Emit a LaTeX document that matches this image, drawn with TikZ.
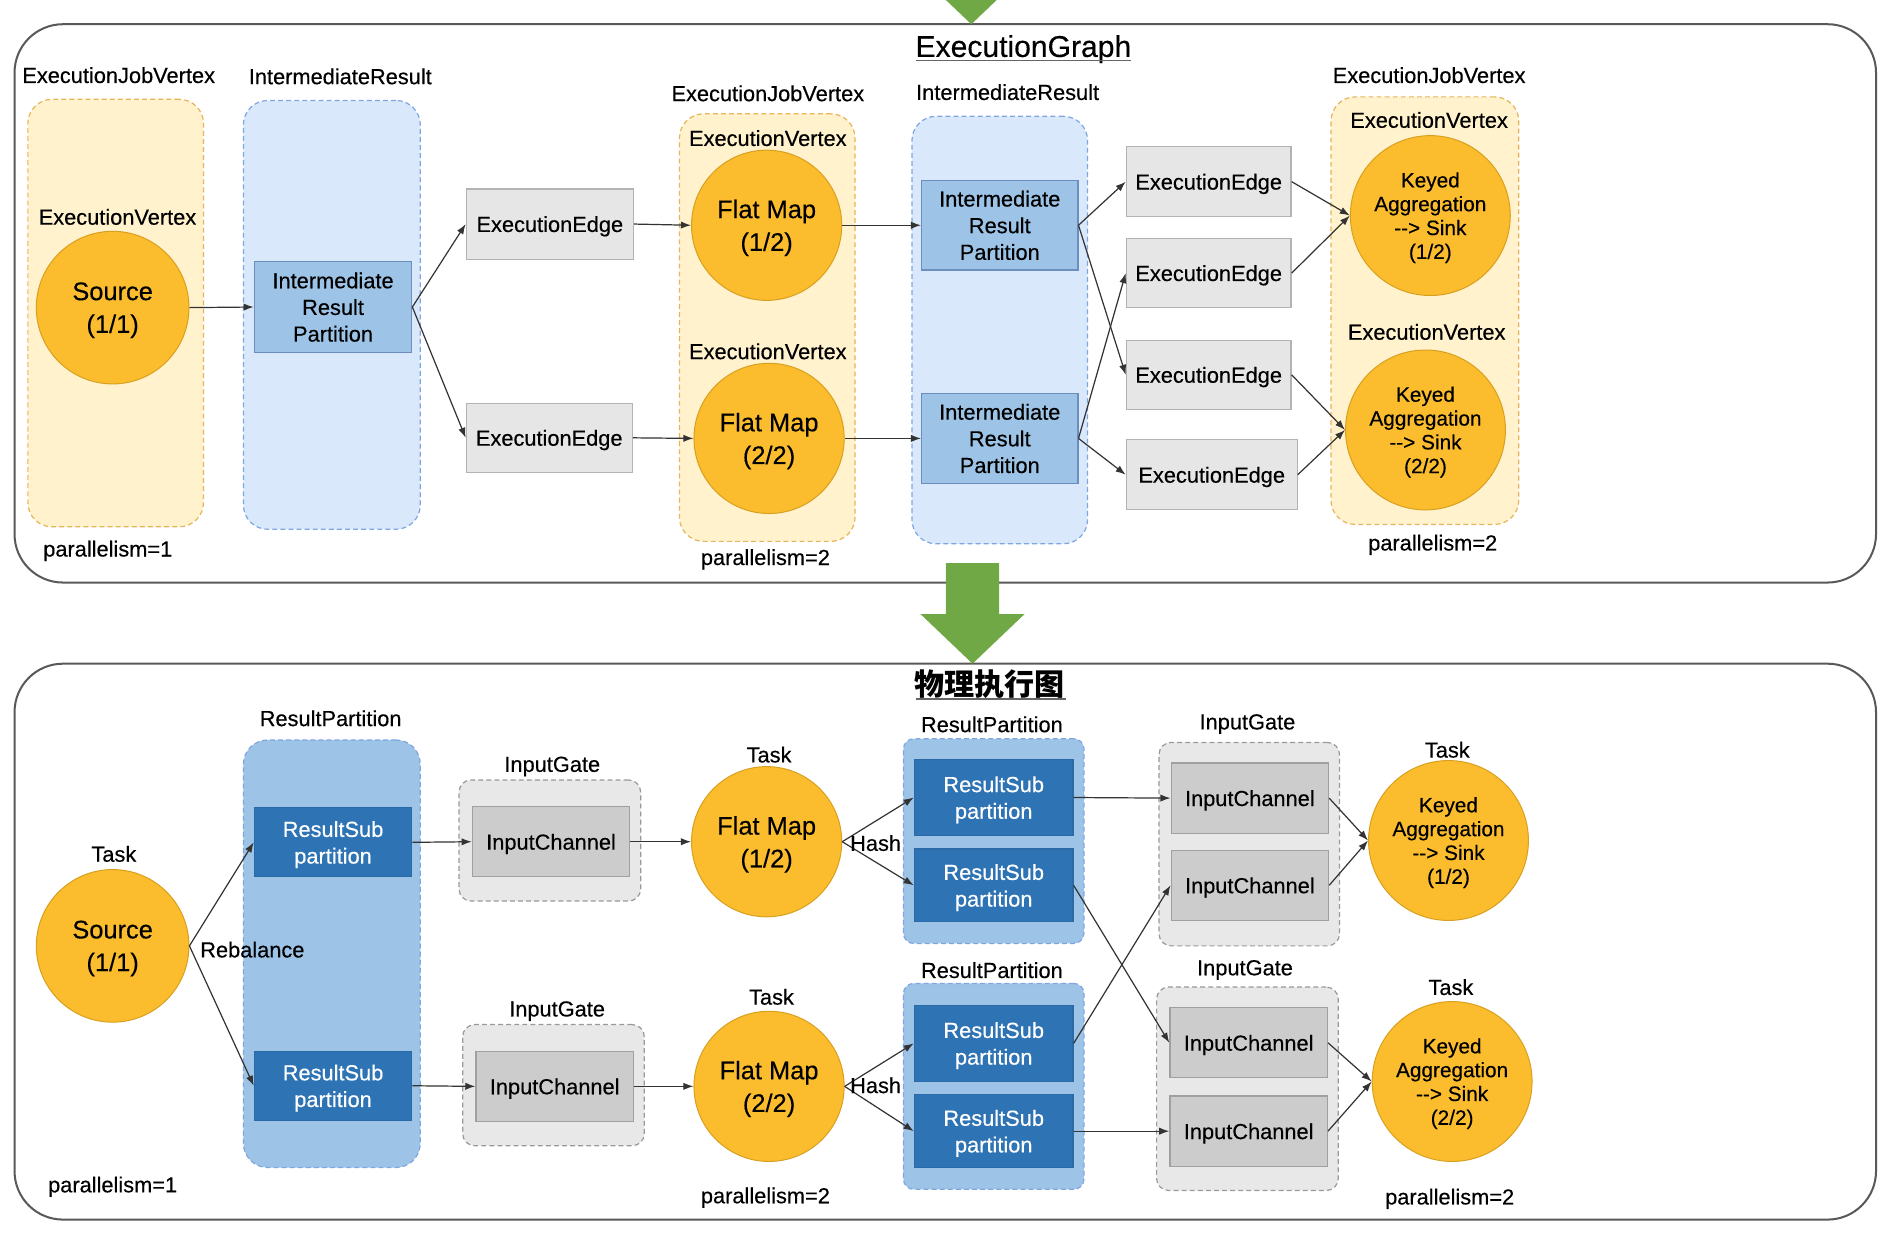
\documentclass[tikz,border=0pt]{standalone}
\usepackage{fontspec}
\setmainfont{Liberation Sans}[FakeBold=0.35]
\newfontfamily\cjkfont{Noto Sans CJK SC}
\usetikzlibrary{arrows.meta}
\definecolor{yfill}{HTML}{FFF2CC}
\definecolor{ybord}{HTML}{E6B45A}
\definecolor{bfill}{HTML}{DAE8FC}
\definecolor{bbord}{HTML}{7EA6E0}
\definecolor{irpf}{HTML}{9DC3E6}
\definecolor{irpb}{HTML}{6C8EBF}
\definecolor{opf}{HTML}{FBBD2D}
\definecolor{opb}{HTML}{D9A020}
\definecolor{eef}{HTML}{E6E6E6}
\definecolor{eeb}{HTML}{B3B3B3}
\definecolor{rspf}{HTML}{2E74B5}
\definecolor{rspb}{HTML}{2A6AA6}
\definecolor{igf}{HTML}{E8E8E8}
\definecolor{igb}{HTML}{999999}
\definecolor{icf}{HTML}{CCCCCC}
\definecolor{icb}{HTML}{A0A0A0}
\definecolor{arrgreen}{HTML}{6FA844}
\newcommand\lblfont{\fontsize{10.8}{13.2}\selectfont}
\newcommand\opfont{\fontsize{12.6}{16.2}\selectfont}
\newcommand\kafont{\fontsize{10.3}{11.8}\selectfont}
\newcommand\ttlfont{\fontsize{14.9}{18}\selectfont}
\begin{document}
\begin{tikzpicture}[x=0.6pt,y=-0.6pt,
  sz/.style 2 args={minimum width=#1*0.6pt, minimum height=#2*0.6pt},
  lbl/.style={inner sep=0pt, font=\lblfont, text depth=0pt},
  outerbox/.style={draw=black!65, line width=1pt, rounded corners=24pt},
  yelgroup/.style={draw=ybord, fill=yfill, line width=0.6pt, dash pattern=on 2.4pt off 1.6pt, rounded corners=12pt, inner sep=0pt},
  blugroup/.style={draw=bbord, fill=bfill, line width=0.6pt, dash pattern=on 2.4pt off 1.6pt, rounded corners=12pt, inner sep=0pt},
  rpgroup/.style={draw=bbord, fill=irpf, line width=0.6pt, dash pattern=on 2.4pt off 1.6pt, rounded corners=#1, inner sep=0pt},
  iggroup/.style={draw=igb, fill=igf, line width=0.6pt, dash pattern=on 2.4pt off 1.6pt, rounded corners=6pt, inner sep=0pt},
  irpbox/.style={draw=irpb, fill=irpf, line width=0.6pt, font=\lblfont, align=center, inner sep=0pt, text depth=0pt},
  eebox/.style={draw=eeb, fill=eef, line width=0.6pt, font=\lblfont, inner sep=0pt, text depth=0pt},
  rspbox/.style={draw=rspb, fill=rspf, line width=0.6pt, text=white, font=\lblfont, align=center, inner sep=0pt, text depth=0pt},
  icbox/.style={draw=icb, fill=icf, line width=0.6pt, font=\lblfont, inner sep=0pt, text depth=0pt},
  opnode/.style={circle, draw=opb, fill=opf, line width=0.5pt, font=\opfont, align=center, inner sep=0pt, text depth=0pt},
  kanode/.style={opnode, font=\kafont},
  arr/.style={-{Latex[length=5pt,width=3.6pt]}, line width=0.6pt, draw=black!80},
  bigarrow/.style={fill=arrgreen, draw=none}
]
\useasboundingbox (0,0) rectangle (1568,1023);

% outer frames
\node[outerbox, sz={1537}{461}] (frameA) at (780.5,250.5) {};
\node[outerbox, sz={1537}{459}] (frameB) at (780.5,777.5) {};

% green arrows
\fill[bigarrow] (781,-60) -- (825,-60) -- (825,-21) -- (845,-21) -- (802,20) -- (759,-21) -- (781,-21) -- cycle;
\fill[bigarrow] (781,465) -- (825,465) -- (825,507) -- (846,507) -- (803,548) -- (760,507) -- (781,507) -- cycle;

% ================= ExecutionGraph =================
\node[inner sep=0pt, font=\ttlfont, text depth=0pt] (ttlA) at (845,38) {ExecutionGraph};
\draw[black!60, line width=0.9pt] (756,50) coordinate (ulA1) -- (934,50) coordinate (ulA2);

% column 1
\node[lbl] (jvlblA) at (98,62) {ExecutionJobVertex};
\node[yelgroup, sz={145}{353}] (jvA) at (95.5,258.5) {};
\node[lbl] (evlblA) at (97,179) {ExecutionVertex};
\node[opnode, minimum size=126*0.6pt] (srcA) at (93,254) {Source\\(1/1)};
\node[lbl] (parA) at (89,453) {parallelism=1};

% column 2
\node[lbl] (irlblA) at (281,63) {IntermediateResult};
\node[blugroup, sz={146}{354}] (irA) at (274,260) {};
\node[irpbox, sz={130}{75}] (irpA) at (275,253.5) {Intermediate\\Result\\Partition};

\node[eebox, sz={138}{58}] (eeA1) at (454,185) {ExecutionEdge};
\node[eebox, sz={137}{57}] (eeA2) at (453.5,361.5) {ExecutionEdge};

% column 3
\node[lbl] (jvlblB) at (634,77) {ExecutionJobVertex};
\node[yelgroup, sz={145}{353}] (jvB) at (633.5,270.5) {};
\node[lbl] (evlblB1) at (634,114) {ExecutionVertex};
\node[opnode, minimum size=124*0.6pt] (fmA1) at (633,186) {Flat Map\\(1/2)};
\node[lbl] (evlblB2) at (634,290) {ExecutionVertex};
\node[opnode, minimum size=124*0.6pt] (fmA2) at (635,362) {Flat Map\\(2/2)};
\node[lbl] (parB) at (632,460) {parallelism=2};

% column 4
\node[lbl] (irlblB) at (832,76) {IntermediateResult};
\node[blugroup, sz={145}{353}] (irB) at (825.5,272.5) {};
\node[irpbox, sz={129}{74}] (irpB1) at (825.5,186) {Intermediate\\Result\\Partition};
\node[irpbox, sz={129}{74}] (irpB2) at (825.5,362) {Intermediate\\Result\\Partition};

% column 5
\node[eebox, sz={136}{58}] (eeB1) at (998,150) {ExecutionEdge};
\node[eebox, sz={136}{57}] (eeB2) at (998,225.5) {ExecutionEdge};
\node[eebox, sz={136}{57}] (eeB3) at (998,309.5) {ExecutionEdge};
\node[eebox, sz={141}{58}] (eeB4) at (1000.5,392) {ExecutionEdge};

% column 6
\node[lbl] (jvlblC) at (1180,62) {ExecutionJobVertex};
\node[yelgroup, sz={155}{353}] (jvC) at (1176.5,256.5) {};
\node[lbl] (evlblC1) at (1180,99) {ExecutionVertex};
\node[kanode, minimum size=132*0.6pt] (kaA1) at (1181,178) {Keyed\\Aggregation\\-{}-> Sink\\(1/2)};
\node[lbl] (evlblC2) at (1178,274) {ExecutionVertex};
\node[kanode, minimum size=132*0.6pt] (kaA2) at (1177,355) {Keyed\\Aggregation\\-{}-> Sink\\(2/2)};
\node[lbl] (parC) at (1183,448) {parallelism=2};

% connectors
\draw[arr] (srcA.east) -- (irpA.west);
\draw[arr] (irpA.east) -- (eeA1.west);
\draw[arr] (irpA.east) -- (eeA2.west);
\draw[arr] (eeA1.east) -- (fmA1.west);
\draw[arr] (eeA2.east) -- (fmA2.west);
\draw[arr] (fmA1.east) -- (irpB1.west);
\draw[arr] (fmA2.east) -- (irpB2.west);
\draw[arr] (irpB1.east) -- (eeB1.west);
\draw[arr] (irpB1.east) -- (eeB3.west);
\draw[arr] (irpB2.east) -- (eeB2.west);
\draw[arr] (irpB2.east) -- (eeB4.west);
\draw[arr] (eeB1.east) -- (kaA1.west);
\draw[arr] (eeB2.east) -- (kaA1.west);
\draw[arr] (eeB3.east) -- (kaA2.west);
\draw[arr] (eeB4.east) -- (kaA2.west);

% ================= physical graph =================
\node[inner sep=0pt, font=\ttlfont\cjkfont\bfseries] (ttlB) at (817,565) {物理执行图};
\draw[black!60, line width=0.9pt] (756,577) coordinate (ulB1) -- (880,577) coordinate (ulB2);

\node[lbl] (tasklbl0) at (94,705) {Task};
\node[opnode, minimum size=126*0.6pt] (srcB) at (93,781) {Source\\(1/1)};
\node[lbl] (parD) at (93,978) {parallelism=1};

\node[lbl] (rplbl0) at (273,593) {ResultPartition};
\node[rpgroup=12pt, sz={146}{353}] (rp0) at (274,787.5) {};
\node[rspbox, sz={130}{57}] (rsp01) at (275,695.5) {ResultSub\\partition};
\node[rspbox, sz={130}{57}] (rsp02) at (275,896.5) {ResultSub\\partition};
\node[lbl, anchor=west] (rebal) at (165,784) {Rebalance};

\node[lbl] (iglbl1) at (456,631) {InputGate};
\node[iggroup, sz={150}{100}] (ig1) at (454,694) {};
\node[icbox, sz={130}{58}] (ic1) at (455,695) {InputChannel};
\node[lbl] (iglbl2) at (460,833) {InputGate};
\node[iggroup, sz={150}{100}] (ig2) at (457,896) {};
\node[icbox, sz={130}{58}] (ic2) at (458,897) {InputChannel};

\node[lbl] (tasklbl1) at (635,623) {Task};
\node[opnode, minimum size=124*0.6pt] (fmB1) at (633,695) {Flat Map\\(1/2)};
\node[lbl] (tasklbl2) at (637,823) {Task};
\node[opnode, minimum size=124*0.6pt] (fmB2) at (635,897) {Flat Map\\(2/2)};
\node[lbl] (parE) at (632,987) {parallelism=2};

\node[lbl] (rplbl1) at (819,598) {ResultPartition};
\node[rpgroup=5pt, sz={149}{169}] (rp1) at (820.5,694.5) {};
\node[rspbox, sz={131}{63}] (rspA) at (820.5,658.5) {ResultSub\\partition};
\node[rspbox, sz={131}{60}] (rspB) at (820.5,731) {ResultSub\\partition};
\node[lbl] (rplbl2) at (819,801) {ResultPartition};
\node[rpgroup=5pt, sz={149}{170}] (rp2) at (820.5,897) {};
\node[rspbox, sz={131}{63}] (rspC) at (820.5,861.5) {ResultSub\\partition};
\node[rspbox, sz={131}{60}] (rspD) at (820.5,934) {ResultSub\\partition};

\node[lbl] (iglbl3) at (1030,596) {InputGate};
\node[iggroup, sz={149}{168}] (ig3) at (1031.5,697) {};
\node[icbox, sz={130}{58}] (icA) at (1032,659) {InputChannel};
\node[icbox, sz={130}{58}] (icB) at (1032,731) {InputChannel};
\node[lbl] (iglbl4) at (1028,799) {InputGate};
\node[iggroup, sz={150}{168}] (ig4) at (1030,899) {};
\node[icbox, sz={130}{58}] (icC) at (1031,861) {InputChannel};
\node[icbox, sz={130}{58}] (icD) at (1031,934) {InputChannel};

\node[lbl] (tasklbl3) at (1195,619) {Task};
\node[kanode, minimum size=132*0.6pt] (kaB1) at (1196,694) {Keyed\\Aggregation\\-{}-> Sink\\(1/2)};
\node[lbl] (tasklbl4) at (1198,815) {Task};
\node[kanode, minimum size=132*0.6pt] (kaB2) at (1199,893) {Keyed\\Aggregation\\-{}-> Sink\\(2/2)};
\node[lbl] (parF) at (1197,988) {parallelism=2};

% connectors
\draw[arr] (srcB.east) -- (rsp01.west);
\draw[arr] (srcB.east) -- (rsp02.west);
\draw[arr] (rsp01.east) -- (ic1.west);
\draw[arr] (rsp02.east) -- (ic2.west);
\draw[arr] (ic1.east) -- (fmB1.west);
\draw[arr] (ic2.east) -- (fmB2.west);
\draw[arr] (fmB1.east) -- (rspA.west);
\draw[arr] (fmB1.east) -- (rspB.west);
\draw[arr] (fmB2.east) -- (rspC.west);
\draw[arr] (fmB2.east) -- (rspD.west);
\draw[arr] (rspA.east) -- (icA.west);
\draw[arr] (rspB.east) -- (icC.west);
\draw[arr] (rspC.east) -- (icB.west);
\draw[arr] (rspD.east) -- (icD.west);
\draw[arr] (icA.east) -- (kaB1.west);
\draw[arr] (icB.east) -- (kaB1.west);
\draw[arr] (icC.east) -- (kaB2.west);
\draw[arr] (icD.east) -- (kaB2.west);
\node[lbl] (hash1) at (723,696) {Hash};
\node[lbl] (hash2) at (723,896) {Hash};
\end{tikzpicture}
\end{document}
